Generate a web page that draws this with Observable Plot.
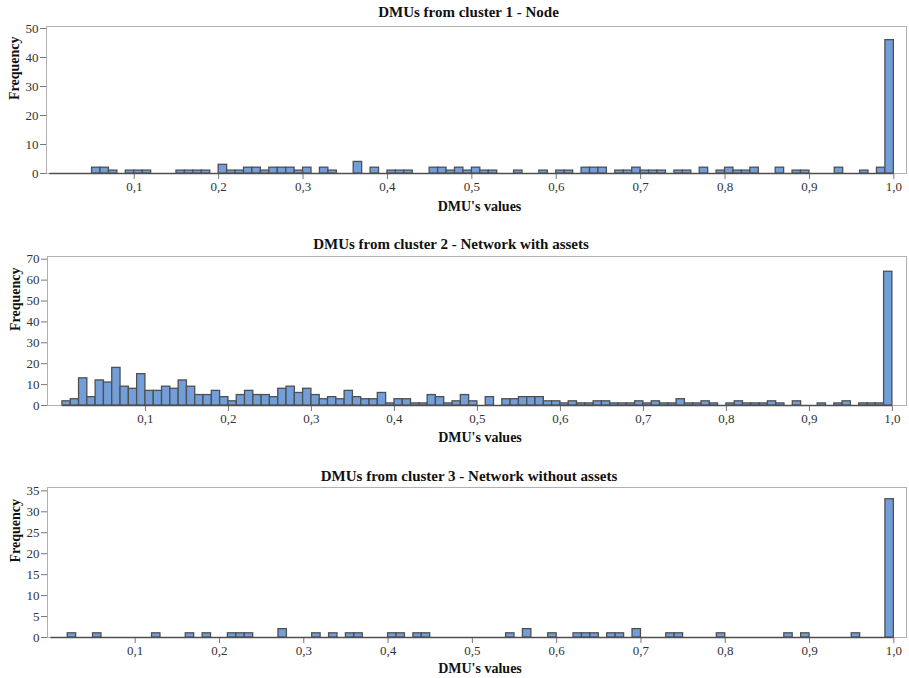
<!DOCTYPE html>
<html><head><meta charset="utf-8">
<script src="https://cdn.jsdelivr.net/npm/d3@7"></script>
<script src="https://cdn.jsdelivr.net/npm/@observablehq/plot@0.6"></script>
<style>
body{margin:0;background:#fff;}
#chart svg{display:block;}
g[aria-label="x-axis tick"], g[aria-label="y-axis tick"]{stroke:#777;}
.tick line{stroke:#777;}
</style></head><body><div id="chart"></div>
<script>
// Bin start values (bin width 0.01)
const binStarts = [
  0.00,0.01,0.02,0.03,0.04,0.05,0.06,0.07,0.08,0.09,
  0.10,0.11,0.12,0.13,0.14,0.15,0.16,0.17,0.18,0.19,
  0.20,0.21,0.22,0.23,0.24,0.25,0.26,0.27,0.28,0.29,
  0.30,0.31,0.32,0.33,0.34,0.35,0.36,0.37,0.38,0.39,
  0.40,0.41,0.42,0.43,0.44,0.45,0.46,0.47,0.48,0.49,
  0.50,0.51,0.52,0.53,0.54,0.55,0.56,0.57,0.58,0.59,
  0.60,0.61,0.62,0.63,0.64,0.65,0.66,0.67,0.68,0.69,
  0.70,0.71,0.72,0.73,0.74,0.75,0.76,0.77,0.78,0.79,
  0.80,0.81,0.82,0.83,0.84,0.85,0.86,0.87,0.88,0.89,
  0.90,0.91,0.92,0.93,0.94,0.95,0.96,0.97,0.98,0.99];
const binWidth = 0.01;

const cluster1Counts = [
  0,0,0,0,0,2,2,1,0,1,
  1,1,0,0,0,1,1,1,1,0,
  3,1,1,2,2,1,2,2,2,1,
  2,0,2,1,0,0,4,0,2,0,
  1,1,1,0,0,2,2,1,2,1,
  2,1,1,0,0,1,0,0,1,0,
  1,1,0,2,2,2,0,1,1,2,
  1,1,1,0,1,1,0,2,0,1,
  2,1,1,2,0,0,2,0,1,1,
  0,0,0,2,0,0,1,0,2,46];

const cluster2Counts = [
  2,3,13,4,12,11,18,9,8,15,
  7,7,9,8,12,9,5,5,7,4,
  2,5,7,5,5,4,8,9,6,8,
  5,3,4,3,7,4,3,3,6,1,
  3,3,1,1,5,4,1,2,5,2,
  0,4,0,3,3,4,4,4,2,2,
  1,2,1,1,2,2,1,1,1,2,
  1,2,1,1,3,1,1,2,1,0,
  1,2,1,1,1,2,1,0,2,0,
  0,1,0,1,2,0,1,1,1,64];

const cluster3Counts = [
  0,0,1,0,0,1,0,0,0,0,
  0,0,1,0,0,0,1,0,1,0,
  0,1,1,1,0,0,0,2,0,0,
  0,1,0,1,0,1,1,0,0,0,
  1,1,0,1,1,0,0,0,0,0,
  0,0,0,0,1,0,2,0,0,1,
  0,0,1,1,1,0,1,1,0,2,
  0,0,0,1,1,0,0,0,0,1,
  0,0,0,0,0,0,0,1,0,1,
  0,0,0,0,0,1,0,0,0,33];

const titles = [
  "DMUs from cluster 1 - Node",
  "DMUs from cluster 2 - Network with assets",
  "DMUs from cluster 3 - Network without assets"];
const xLabel = "DMU's values";
const yLabel = "Frequency";
const xTicks = [0.1,0.2,0.3,0.4,0.5,0.6,0.7,0.8,0.9,1.0];
const yTicks1 = [0,10,20,30,40,50];
const yTicks2 = [0,10,20,30,40,50,60,70];
const yTicks3 = [0,5,10,15,20,25,30,35];

const FONT = "'Liberation Serif','Times New Roman',serif";
const FILL = "#729fd9";
const EDGE = "#4f4f4f";

function panel(counts, title, yTicks, cfg) {
  const data = binStarts.map((b, i) => ({x0: b, x1: b + binWidth, count: counts[i]}));
  return Plot.plot({
    width: 909,
    height: cfg.height,
    marginTop: cfg.mt,
    marginBottom: cfg.mb,
    marginLeft: cfg.ml,
    marginRight: 3,
    style: {fontFamily: FONT, fontSize: "13px", color: "#333", background: "#fff"},
    x: {domain: cfg.xDomain, ticks: xTicks, tickFormat: d => d.toFixed(1).replace(".", ","),
        tickSize: 6, tickPadding: 2, label: null},
    y: {domain: cfg.yDomain, ticks: yTicks, tickSize: 6, tickPadding: 2, label: null},
    marks: [
      Plot.frame({stroke: "#b0b0b0"}),
      Plot.ruleY([0], {x1: 0, x2: 1, stroke: EDGE, strokeWidth: 1.6}),
      Plot.rect(data.filter(d => d.count > 0), {x1: "x0", x2: "x1", y1: 0, y2: "count",
        fill: FILL, stroke: EDGE, strokeWidth: 1.3}),
      Plot.text([title], {frameAnchor: "top", dy: cfg.titleDy, dx: cfg.titleDx,
        fontWeight: "bold", fontSize: 15, lineAnchor: "middle", fill: "#111"}),
      Plot.text([xLabel], {frameAnchor: "bottom", dy: cfg.xlabDy, dx: 3,
        fontWeight: "bold", fontSize: 14, lineAnchor: "middle", fill: "#111"}),
      Plot.text([yLabel], {frameAnchor: "left", dx: -32, rotate: -90,
        fontWeight: "bold", fontSize: 14, lineAnchor: "middle", fill: "#111"})
    ]
  });
}

const root = document.getElementById("chart");
root.appendChild(panel(cluster1Counts, titles[0], yTicks1,
  {height: 226, mt: 26, mb: 53, ml: 46, xDomain: [-0.004, 1.015], yDomain: [0, 50.7],
   titleDy: -14, titleDx: -8, xlabDy: 33}));
root.appendChild(panel(cluster2Counts, titles[1], yTicks2,
  {height: 226, mt: 30, mb: 47, ml: 47, xDomain: [-0.018, 1.017], yDomain: [0, 71.3],
   titleDy: -12, titleDx: -26, xlabDy: 32}));
root.appendChild(panel(cluster3Counts, titles[2], yTicks3,
  {height: 226, mt: 35, mb: 41, ml: 47, xDomain: [-0.004, 1.015], yDomain: [0, 35.8],
   titleDy: -11.5, titleDx: -8, xlabDy: 31}));
</script></body></html>
